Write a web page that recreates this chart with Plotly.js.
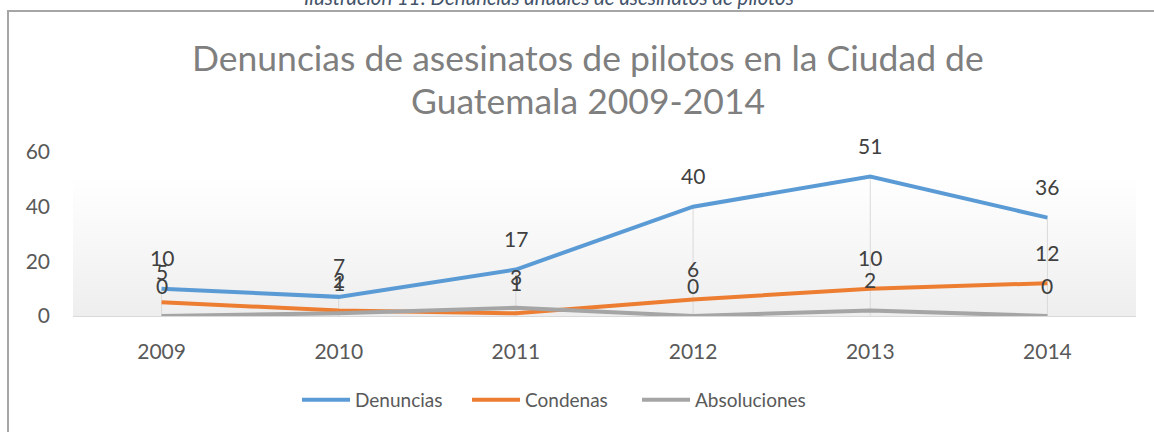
<!DOCTYPE html>
<html>
<head>
<meta charset="utf-8">
<script src="https://cdn.plot.ly/plotly-3.0.1.min.js"></script>
<style>
  html, body { margin: 0; padding: 0; background: #ffffff; }
  #wrap { position: relative; width: 1154px; height: 432px; overflow: hidden; background: #ffffff; }
  #frame { position: absolute; left: 7px; top: 10px; width: 1200px; height: 500px; border: 2px solid #a6a6a6; box-sizing: border-box; }
  #grad { position: absolute; left: 73px; top: 176px; width: 1063px; height: 140px;
          background: linear-gradient(to bottom, #ffffff 0%, #f7f7f7 50%, #eeeeee 100%); }
  #chart { position: absolute; left: 0; top: 0; width: 1154px; height: 432px; }
</style>
</head>
<body>
<div id="wrap">
  <div id="frame"></div>
  <div id="grad"></div>
  <div id="chart"></div>
</div>
<script>
const years = ['2009', '2010', '2011', '2012', '2013', '2014'];
const denuncias = [10, 7, 17, 40, 51, 36];
const condenas = [5, 2, 1, 6, 10, 12];
const absoluciones = [0, 1, 3, 0, 2, 0];
const seriesNames = ['Denuncias', 'Condenas', 'Absoluciones'];
const seriesColors = ['#5b9bd5', '#ed7d31', '#a5a5a5'];
const yTicks = [0, 20, 40, 60];
const titleLines = ['Denuncias de asesinatos de pilotos en la Ciudad de', 'Guatemala 2009-2014'];
const captionText = 'Ilustración 11: Denuncias anuales de asesinatos de pilotos';

const FONT = 'Lato, "Open Sans", sans-serif';
const allSeries = [denuncias, condenas, absoluciones];

// plot area in pixels (for placing paper-referenced texts)
const PL = 73, PR = 1136, PT = 152, PB = 316;
const px2x = p => (p - PL) / (PR - PL);
const px2y = p => (PB - p) / (PB - PT);

const traces = allSeries.map((vals, i) => ({
  type: 'scatter',
  mode: 'lines',
  x: years,
  y: vals,
  name: seriesNames[i],
  line: { color: seriesColors[i], width: 4 },
  hoverinfo: 'x+y+name'
}));

// drop lines from the axis up to the highest point of each category (x = category index)
const shapes = years.map((yr, k) => ({
  type: 'line', xref: 'x', yref: 'y', layer: 'below',
  x0: k, x1: k, y0: 0, y1: Math.max(...allSeries.map(s => s[k])),
  line: { color: '#d9d9d9', width: 1 }
}));

const annotations = [];
allSeries.forEach((vals, i) => {
  vals.forEach((v, k) => {
    annotations.push({
      x: k, y: v, xref: 'x', yref: 'y',
      text: String(v), showarrow: false, yshift: 31,
      font: { family: FONT, size: 21, color: '#404040' }
    });
  });
});
// chart title, two lines
titleLines.forEach((t, j) => {
  annotations.push({
    xref: 'paper', yref: 'paper', x: px2x(588), y: px2y(j === 0 ? 58 : 100),
    xanchor: 'center', yanchor: 'middle', showarrow: false,
    text: t, font: { family: FONT, size: 35.5, color: '#7f7f7f' }
  });
});
// figure caption (partly cut at the top edge, as in the source)
annotations.push({
  xref: 'paper', yref: 'paper', x: px2x(549), y: px2y(-3),
  xanchor: 'center', yanchor: 'middle', showarrow: false,
  text: '<i>' + captionText + '</i>',
  font: { family: FONT, size: 20.4, color: '#44546a' }
});

const layout = {
  width: 1154, height: 432,
  margin: { l: PL, r: 1154 - PR, t: PT, b: 432 - PB, pad: 0 },
  paper_bgcolor: 'rgba(0,0,0,0)',
  plot_bgcolor: 'rgba(0,0,0,0)',
  showlegend: true,
  xaxis: {
    type: 'category', range: [-0.5, 5.5], fixedrange: true,
    showgrid: false, zeroline: false,
    showline: true, linecolor: '#d9d9d9', linewidth: 1,
    ticks: '', ticklabelstandoff: 17,
    tickfont: { family: FONT, size: 21, color: '#595959' }
  },
  yaxis: {
    range: [0, 60], tickvals: yTicks, fixedrange: true,
    showgrid: false, zeroline: false, showline: false,
    ticks: '', ticklabelstandoff: 22,
    tickfont: { family: FONT, size: 21, color: '#595959' }
  },
  legend: {
    orientation: 'h', xref: 'container', yref: 'container',
    x: 552 / 1154, xanchor: 'center', y: 1 - 400 / 432, yanchor: 'middle',
    font: { family: FONT, size: 19, color: '#595959' },
    entrywidth: 107, entrywidthmode: 'pixels',
    itemwidth: 48, tracegroupgap: 0, bgcolor: 'rgba(0,0,0,0)'
  },
  shapes: shapes,
  annotations: annotations
};

Plotly.newPlot('chart', traces, layout, { displayModeBar: false, staticPlot: true });
</script>
</body>
</html>
